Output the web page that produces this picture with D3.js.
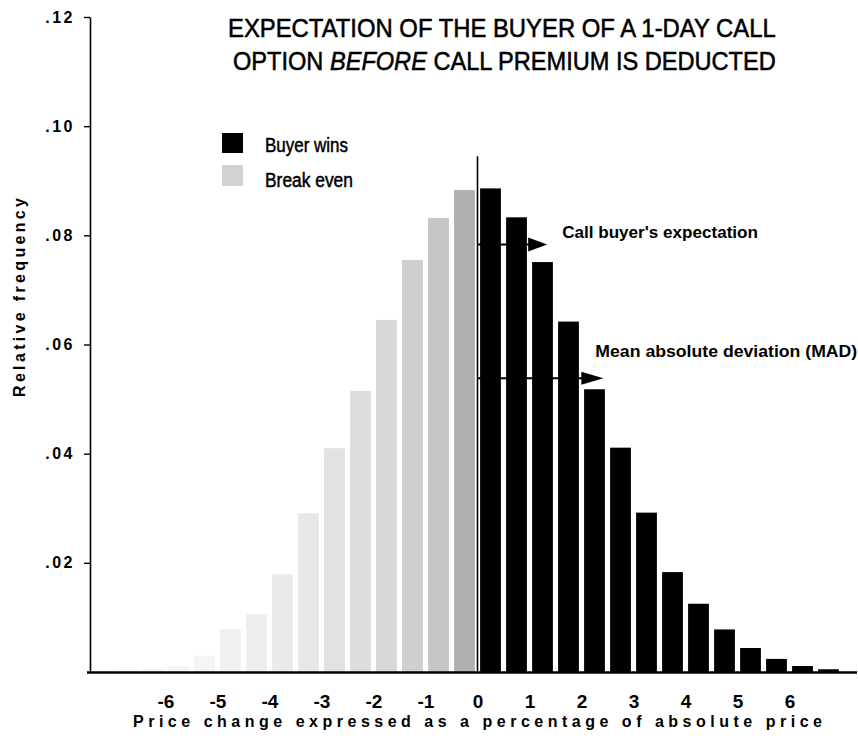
<!DOCTYPE html>
<html><head><meta charset="utf-8">
<script src="https://cdn.jsdelivr.net/npm/d3@7"></script>
<style>
body{margin:0;background:#fff}
svg{display:block}
text{font-family:"Liberation Sans",Arial,Helvetica,sans-serif;fill:#000}
</style>
</head><body>
<svg id="c" width="858" height="741"></svg>
<script>
// ---- data ----
const binWidth = 0.5; // percent per bin
const winBins = [0, 0.5, 1, 1.5, 2, 2.5, 3, 3.5, 4, 4.5, 5, 5.5, 6, 6.5];
const buyerWins = [0.0886, 0.0833, 0.0751, 0.0642, 0.0518, 0.0411, 0.0292, 0.0183, 0.0125, 0.0078, 0.0044, 0.0024, 0.0011, 0.0005];
const evenBins = [-0.5, -1, -1.5, -2, -2.5, -3, -3.5, -4, -4.5, -5, -5.5, -6, -6.5, -7];
const breakEven = [0.0883, 0.0832, 0.0755, 0.0645, 0.0515, 0.0410, 0.0291, 0.0179, 0.0106, 0.0079, 0.0030, 0.0011, 0.0005, 0.0003];
const xTicks = [-6, -5, -4, -3, -2, -1, 0, 1, 2, 3, 4, 5, 6];
const yTicks = [0.02, 0.04, 0.06, 0.08, 0.10, 0.12];
const arrowNames = ["Call buyer's expectation", "Mean absolute deviation (MAD)"];
const arrowEnds = [1.34, 2.42];
const arrowLevels = [0.0783, 0.0538];
const legendNames = ["Buyer wins", "Break even"];
const titleLine1 = "EXPECTATION OF THE BUYER OF A 1-DAY CALL";
const titleLine2 = ["OPTION ", "BEFORE", " CALL PREMIUM IS DEDUCTED"];
const xTitle = "Price change expressed as a percentage of absolute price";
const yTitle = "Relative frequency";

// ---- scales ----
const x = d3.scaleLinear().domain([0, 1]).range([477.5, 529.5]);
const y = d3.scaleLinear().domain([0, 0.12]).range([672, 17]);
const svg = d3.select("#c");

function fitW(t, w) {
  const L = t.node().getComputedTextLength();
  const k = w / L;
  const tx = +t.attr("x"), ty = +t.attr("y");
  t.attr("x", 0).attr("y", 0).attr("transform", `translate(${tx},${ty}) scale(${k},1)`);
}

const greyFill = d3.scaleLinear().domain([0, 1, 3, 6, 10])
  .range(["#b0b0b0", "#c6c6c6", "#d8d8d8", "#e7e7e7", "#f4f4f4"]).clamp(true);

const inset = 2.6;
// break-even (grey) bars
svg.append("g").selectAll("rect").data(evenBins).join("rect")
  .attr("x", d => x(d) + inset)
  .attr("width", d => x(d + binWidth) - x(d) - 2 * inset)
  .attr("y", (d, i) => y(breakEven[i]))
  .attr("height", (d, i) => y(0) - y(breakEven[i]))
  .attr("fill", (d, i) => greyFill(i));

// buyer wins (black) bars
svg.append("g").selectAll("rect").data(winBins).join("rect")
  .attr("x", d => x(d) + inset)
  .attr("width", d => x(d + binWidth) - x(d) - 2 * inset)
  .attr("y", (d, i) => y(buyerWins[i]))
  .attr("height", (d, i) => y(0) - y(buyerWins[i]))
  .attr("fill", "#000");

// zero line
svg.append("line").attr("x1", x(0)).attr("x2", x(0))
  .attr("y1", y(0.0945)).attr("y2", y(0))
  .attr("stroke", "#000").attr("stroke-width", 1.6);

// y axis
const ya = svg.append("g").attr("transform", "translate(90,0)")
  .call(d3.axisLeft(y).tickValues(yTicks).tickSize(6).tickSizeOuter(0).tickPadding(9)
    .tickFormat(d => d3.format(".2f")(d).replace(/^0/, "")));
ya.select(".domain").attr("stroke-width", 1.6);
ya.selectAll(".tick line").attr("stroke-width", 1.4);
ya.selectAll("text").style("font-size", "16px").style("font-weight", "bold")
  .style("letter-spacing", "2.5px").style("font-family", "'Liberation Sans',Arial,sans-serif");

// x axis labels
const xa = svg.append("g").attr("transform", `translate(0,${y(0)})`)
  .call(d3.axisBottom(x).tickValues(xTicks).tickSize(0).tickPadding(23).tickFormat(d => String(d)));
xa.select(".domain").remove();
xa.selectAll("text").style("font-size", "19px").style("font-weight", "bold")
  .style("font-family", "'Liberation Sans',Arial,sans-serif");

// baseline
svg.append("line").attr("x1", 87).attr("x2", 857).attr("y1", y(0) + 0.5).attr("y2", y(0) + 0.5)
  .attr("stroke", "#000").attr("stroke-width", 2.6);

// arrows
arrowNames.forEach((name, i) => {
  const ax = x(arrowEnds[i]), ay = y(arrowLevels[i]);
  const hl = i === 0 ? 19 : 22, hh = i === 0 ? 7 : 6.5;
  svg.append("line").attr("x1", x(0)).attr("x2", ax - hl + 2).attr("y1", ay).attr("y2", ay)
    .attr("stroke", "#000").attr("stroke-width", 2);
  svg.append("path").attr("d", `M${ax},${ay}L${ax - hl},${ay - hh}L${ax - hl},${ay + hh}Z`).attr("fill", "#000");
  const t = svg.append("text")
    .attr("x", i === 0 ? ax + 15 : ax - 8)
    .attr("y", i === 0 ? ay - 7 : ay - 21)
    .style("font-size", "17px").style("font-weight", "bold").text(name);
  fitW(t, i === 0 ? 196 : 262);
});

// legend
const lg = svg.append("g");
lg.append("rect").attr("x", 222).attr("y", 133).attr("width", 21).attr("height", 20).attr("fill", "#000");
lg.append("rect").attr("x", 222).attr("y", 165).attr("width", 21).attr("height", 21).attr("fill", "#d2d2d2");
legendNames.forEach((n, i) => {
  const t = lg.append("text").attr("x", 265).attr("y", 152 + i * 35)
    .style("font-size", "20px").style("stroke", "#000").style("stroke-width", "0.5px").text(n);
  fitW(t, i === 0 ? 83 : 88);
});

// title
const t1 = svg.append("text").attr("x", 228).attr("y", 37).style("font-size", "26px")
  .style("stroke", "#000").style("stroke-width", "0.55px").text(titleLine1);
fitW(t1, 548);
const t2 = svg.append("text").attr("x", 233).attr("y", 70).style("font-size", "26px")
  .style("stroke", "#000").style("stroke-width", "0.55px");
t2.append("tspan").text(titleLine2[0]);
t2.append("tspan").style("font-style", "italic").text(titleLine2[1]);
t2.append("tspan").text(titleLine2[2]);
fitW(t2, 543);

// axis titles
svg.append("text").attr("x", 133).attr("y", 727)
  .attr("textLength", 689).attr("lengthAdjust", "spacing")
  .style("font-size", "16px").style("font-weight", "bold").text(xTitle);
svg.append("text").attr("transform", "translate(25,397) rotate(-90)")
  .attr("textLength", 199).attr("lengthAdjust", "spacing")
  .style("font-size", "16px").style("font-weight", "bold").text(yTitle);
</script>
</body></html>
